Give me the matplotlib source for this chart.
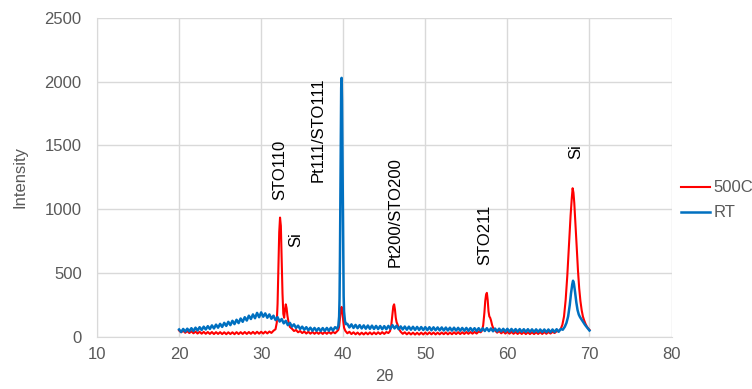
import matplotlib
matplotlib.use("Agg")
import matplotlib.pyplot as plt

plt.rcParams['font.family'] = ['Liberation Sans', 'DejaVu Sans']

# 500C (red)
x_500c = [20.0, 20.25, 20.5, 20.75, 21.0, 21.25, 21.5, 21.75, 22.0, 22.25, 22.5, 22.75, 23.0, 23.25, 23.5, 23.75,
          24.0, 24.25, 24.5, 24.75, 25.0, 25.25, 25.5, 25.75, 26.0, 26.25, 26.5, 26.75, 27.0, 27.25, 27.5, 27.75,
          28.0, 28.25, 28.5, 28.75, 29.0, 29.25, 29.5, 29.75, 30.0, 30.25, 30.5, 30.75, 31.0, 31.25, 31.5, 31.75,
          31.9, 32.0, 32.1, 32.2, 32.3, 32.4, 32.5, 32.6, 32.7, 32.8, 32.9, 33.0, 33.1, 33.2, 33.35, 33.5,
          33.75, 34.0, 34.25, 34.5, 34.75, 35.0, 35.25, 35.5, 35.75, 36.0, 36.25, 36.5, 36.75, 37.0, 37.25, 37.5,
          37.75, 38.0, 38.25, 38.5, 38.75, 39.0, 39.25,
          39.4, 39.5, 39.6, 39.7, 39.8, 39.9, 40.0, 40.1, 40.25,
          40.5, 40.75, 41.0, 41.25, 41.5, 41.75, 42.0, 42.25, 42.5, 42.75, 43.0, 43.25, 43.5, 43.75, 44.0, 44.25,
          44.5, 44.75, 45.0, 45.25, 45.5,
          45.7, 45.85, 46.0, 46.1, 46.2, 46.3, 46.4, 46.5, 46.6, 46.75, 46.9,
          47.0, 47.25, 47.5, 47.75, 48.0, 48.25, 48.5, 48.75, 49.0, 49.25, 49.5, 49.75, 50.0, 50.25, 50.5, 50.75,
          51.0, 51.25, 51.5, 51.75, 52.0, 52.25, 52.5, 52.75, 53.0, 53.25, 53.5, 53.75, 54.0, 54.25, 54.5, 54.75,
          55.0, 55.25, 55.5, 55.75, 56.0, 56.25, 56.5, 56.75,
          56.9, 57.05, 57.2, 57.3, 57.4, 57.5, 57.6, 57.7, 57.8, 57.9, 58.0, 58.15, 58.3, 58.5,
          58.75, 59.0, 59.25, 59.5, 59.75, 60.0, 60.25, 60.5, 60.75, 61.0, 61.25, 61.5, 61.75, 62.0, 62.25, 62.5,
          62.75, 63.0, 63.25, 63.5, 63.75, 64.0, 64.25, 64.5, 64.75, 65.0, 65.25, 65.5, 65.75, 66.0, 66.25,
          66.5, 66.7, 66.9, 67.1, 67.3, 67.5, 67.7, 67.85, 67.95, 68.05, 68.15, 68.3, 68.45, 68.6, 68.75, 68.9,
          69.05, 69.2, 69.35, 69.5, 69.65, 69.8, 70.0]
y_500c = [50, 36, 48, 32, 46, 30, 44, 28, 42, 26, 40, 25, 39, 24, 38, 23,
          38, 22, 37, 23, 37, 22, 36, 21, 36, 22, 36, 21, 37, 22, 37, 23,
          38, 23, 38, 24, 39, 24, 40, 25, 40, 26, 41, 27, 42, 31, 48, 60,
          110, 260, 540, 820, 935, 870, 620, 340, 180, 150, 210, 255, 225, 165, 110, 78,
          64, 46, 54, 36, 46, 30, 42, 26, 40, 25, 39, 24, 38, 24, 38, 23,
          38, 24, 39, 25, 40, 28, 44,
          55, 80, 140, 205, 235, 195, 125, 72, 48,
          28, 40, 22, 36, 20, 34, 18, 33, 19, 34, 20, 35, 20, 35, 21, 36,
          22, 37, 23, 38, 30,
          45, 90, 180, 240, 255, 215, 150, 115, 100, 70, 50,
          40, 24, 36, 20, 34, 19, 33, 18, 32, 18, 33, 19, 34, 20, 35, 20,
          34, 19, 33, 20, 34, 21, 35, 20, 34, 21, 36, 22, 37, 22, 36, 23,
          38, 24, 38, 25, 39, 26, 42, 36,
          48, 90, 190, 280, 330, 345, 290, 200, 160, 150, 130, 90, 65, 50,
          33, 46, 28, 42, 26, 40, 25, 39, 24, 38, 23, 37, 23, 37, 22, 36,
          22, 36, 22, 36, 23, 37, 23, 38, 24, 39, 26, 40, 30, 44, 45,
          62, 95, 160, 290, 480, 720, 950, 1090, 1165, 1130, 1050, 880, 700, 520, 380, 280,
          210, 160, 130, 105, 85, 70, 55]

# RT (blue)
x_rt = [20.0, 20.25, 20.5, 20.75, 21.0, 21.25, 21.5, 21.75, 22.0, 22.25, 22.5, 22.75, 23.0, 23.25, 23.5, 23.75,
        24.0, 24.25, 24.5, 24.75, 25.0, 25.25, 25.5, 25.75, 26.0, 26.25, 26.5, 26.75, 27.0, 27.25, 27.5, 27.75,
        28.0, 28.25, 28.5, 28.75, 29.0, 29.25, 29.5, 29.75, 30.0, 30.25, 30.5, 30.75, 31.0, 31.25, 31.5, 31.75,
        32.0, 32.25, 32.5, 32.75, 33.0, 33.25, 33.5, 33.75, 34.0, 34.25, 34.5, 34.75, 35.0, 35.25, 35.5, 35.75,
        36.0, 36.25, 36.5, 36.75, 37.0, 37.25, 37.5, 37.75, 38.0, 38.25, 38.5, 38.75, 39.0, 39.25,
        39.4, 39.5, 39.55, 39.6, 39.65, 39.7, 39.75, 39.8, 39.85, 39.9, 39.95, 40.0, 40.05, 40.1, 40.2, 40.3,
        40.5, 40.75, 41.0, 41.25, 41.5, 41.75, 42.0, 42.25, 42.5, 42.75, 43.0, 43.25, 43.5, 43.75, 44.0, 44.25,
        44.5, 44.75, 45.0, 45.25, 45.5, 45.75, 46.0, 46.25, 46.5, 46.75, 47.0, 47.25, 47.5, 47.75, 48.0, 48.25,
        48.5, 48.75, 49.0, 49.25, 49.5, 49.75, 50.0, 50.25, 50.5, 50.75, 51.0, 51.25, 51.5, 51.75, 52.0, 52.25,
        52.5, 52.75, 53.0, 53.25, 53.5, 53.75, 54.0, 54.25, 54.5, 54.75, 55.0, 55.25, 55.5, 55.75, 56.0, 56.25,
        56.5, 56.75, 57.0, 57.25, 57.5, 57.75, 58.0, 58.25, 58.5, 58.75, 59.0, 59.25, 59.5, 59.75, 60.0, 60.25,
        60.5, 60.75, 61.0, 61.25, 61.5, 61.75, 62.0, 62.25, 62.5, 62.75, 63.0, 63.25, 63.5, 63.75, 64.0, 64.25,
        64.5, 64.75, 65.0, 65.25, 65.5, 65.75, 66.0, 66.25, 66.5, 66.75,
        67.0, 67.2, 67.4, 67.6, 67.75, 67.9, 68.0, 68.1, 68.25, 68.4, 68.55, 68.7, 68.85, 69.0, 69.15, 69.3,
        69.45, 69.6, 69.75, 69.9, 70.0]
y_rt = [58, 38, 62, 42, 64, 44, 68, 46, 72, 50, 76, 54, 80, 58, 84, 62,
        90, 66, 96, 72, 102, 78, 110, 86, 118, 92, 126, 100, 134, 108, 144, 118,
        154, 128, 166, 140, 176, 146, 188, 154, 192, 158, 184, 150, 176, 142, 166, 132,
        154, 120, 140, 106, 126, 92, 110, 80, 98, 70, 88, 62, 80, 56, 76, 52,
        72, 48, 70, 48, 68, 46, 69, 47, 70, 48, 72, 50, 76, 64,
        85, 160, 300, 620, 1100, 1600, 1950, 2030, 1850, 1450, 950, 560, 320, 200, 130, 100,
        102, 74, 98, 70, 94, 68, 92, 66, 90, 64, 89, 63, 88, 62, 86, 61,
        85, 60, 84, 60, 86, 64, 92, 66, 88, 60, 82, 58, 81, 56, 80, 56,
        79, 55, 78, 54, 77, 54, 76, 53, 76, 52, 75, 52, 74, 51, 74, 50,
        73, 50, 72, 49, 72, 49, 71, 48, 70, 48, 70, 47, 69, 47, 68, 46,
        68, 46, 67, 46, 68, 45, 66, 44, 65, 43, 64, 43, 63, 42, 63, 41,
        62, 41, 61, 40, 61, 40, 60, 39, 60, 39, 59, 38, 59, 38, 58, 38,
        58, 37, 58, 37, 58, 38, 60, 40, 62, 56,
        80, 110, 160, 250, 340, 410, 440, 420, 350, 270, 210, 175, 155, 140, 125, 110,
        95, 82, 70, 58, 50]

# peak labels
peak_labels = ['STO110', 'Si', 'Pt111/STO111', 'Pt200/STO200', 'STO211', 'Si']
label_x = [32.3, 34.2, 37.0, 46.3, 57.3, 68.3]
label_y = [1310, 760, 1620, 980, 800, 1450]

x_ticks = [10, 20, 30, 40, 50, 60, 70, 80]
y_ticks = [0, 500, 1000, 1500, 2000, 2500]

fig = plt.figure(figsize=(7.52, 3.89), dpi=100)
ax = fig.add_axes([0.129, 0.134, 0.764, 0.82])

grid_col = '#D9D9D9'
txt_col = '#595959'
fs = 12

ax.plot(x_500c, y_500c, color='#FF0000', lw=1.5, label='500C')
ax.plot(x_rt, y_rt, color='#0070C0', lw=1.8, label='RT')

ax.set_xlim(10, 80)
ax.set_ylim(0, 2500)
ax.set_xticks(x_ticks)
ax.set_yticks(y_ticks)
ax.grid(True, color=grid_col, lw=1)
ax.set_axisbelow(True)
for s in ['top', 'right']:
    ax.spines[s].set_visible(False)
for s in ['left', 'bottom']:
    ax.spines[s].set_color(grid_col)
ax.tick_params(length=0, labelsize=fs, labelcolor=txt_col)
ax.tick_params(axis='x', pad=7)
ax.tick_params(axis='y', pad=11)

ax.set_xlabel('2θ', fontsize=fs, color=txt_col, labelpad=5)
ax.set_ylabel('Intensity', fontsize=fs, color=txt_col, labelpad=12)

for t, xx, yy in zip(peak_labels, label_x, label_y):
    ax.text(xx, yy, t, rotation=90, ha='center', va='center', fontsize=fs, color='black')

fig.legend(loc='center left', bbox_to_anchor=(0.897, 0.485), frameon=False,
           fontsize=fs, handlelength=1.75, labelspacing=0.6, handletextpad=0.2,
           labelcolor=txt_col, borderaxespad=0)

fig.savefig('out.png', dpi=100)
